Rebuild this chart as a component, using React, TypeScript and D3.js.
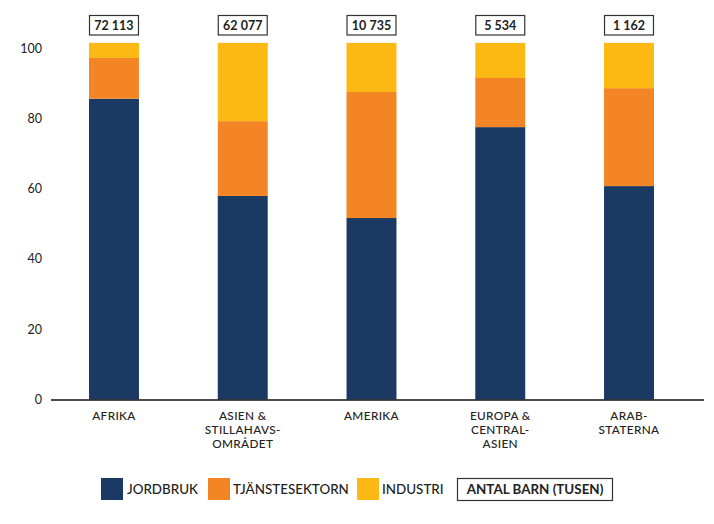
import React from "react";
import * as d3 from "d3";

const categories: string[][] = [
  ["AFRIKA"],
  ["ASIEN &", "STILLAHAVS-", "OMRÅDET"],
  ["AMERIKA"],
  ["EUROPA &", "CENTRAL-", "ASIEN"],
  ["ARAB-", "STATERNA"],
];
const jordbruk = [85.7, 58.0, 51.7, 77.6, 60.8];
const tjanste = [11.6, 21.3, 35.9, 14.0, 27.9];
const industri = [4.3, 22.3, 14.0, 10.0, 12.9];
const antalBarn = ["72 113", "62 077", "10 735", "5 534", "1 162"];
const seriesNames = ["JORDBRUK", "TJÄNSTESEKTORN", "INDUSTRI"];
const colors = ["#1b3a63", "#f48524", "#fcb813"];
const yTicks = [0, 20, 40, 60, 80, 100];
const boxLabel = "ANTAL BARN (TUSEN)";

const FONT = "Lato, 'Open Sans', sans-serif";

export default function App() {
  const W = 714, H = 524;
  const x = d3
    .scaleBand<number>()
    .domain(categories.map((_, i) => i))
    .range([50, 693])
    .paddingInner(0.612)
    .paddingOuter(0.303);
  const y = d3.scaleLinear().domain([0, 100]).range([399.5, 48.5]);

  const rows = categories.map((_, i) => ({
    i,
    j: jordbruk[i],
    t: tjanste[i],
    n: industri[i],
  }));
  const stack = d3.stack<any>().keys(["j", "t", "n"])(rows);

  const legendItems = [
    { x: 101, tx: 127 },
    { x: 208, tx: 233 },
    { x: 357, tx: 382 },
  ];

  return (
    <svg
      width={W}
      height={H}
      style={{ position: "absolute", left: 0, top: 0, background: "#fff" }}
      fontFamily={FONT}
    >
      {yTicks.map((t) => (
        <text
          key={t}
          x={42}
          y={y(t)}
          dy="0.35em"
          textAnchor="end"
          fontSize={12.5}
          fill="#222"
        >
          {t}
        </text>
      ))}
      {stack.map((layer, si) =>
        layer.map((d, i) => (
          <rect
            key={si + "-" + i}
            x={x(i)}
            y={y(d[1])}
            width={x.bandwidth()}
            height={y(d[0]) - y(d[1])}
            fill={colors[si]}
          />
        ))
      )}
      <line x1={51} x2={704} y1={400} y2={400} stroke="#111" strokeWidth={1.6} />
      {categories.map((lines, i) =>
        lines.map((l, k) => (
          <text
            key={i + "-" + k}
            x={(x(i) as number) + x.bandwidth() / 2}
            y={420 + k * 14.2}
            textAnchor="middle"
            fontSize={11.8}
            fontWeight={500}
            letterSpacing={0.35}
            fill="#222"
          >
            {l}
          </text>
        ))
      )}
      {antalBarn.map((v, i) => (
        <g key={i}>
          <rect
            x={(x(i) as number) + 0.5}
            y={15.5}
            width={x.bandwidth() - 1}
            height={19.5}
            fill="#fff"
            stroke="#333"
            strokeWidth={1.2}
          />
          <text
            x={(x(i) as number) + x.bandwidth() / 2}
            y={25.5}
            dy="0.35em"
            textAnchor="middle"
            fontSize={12.5}
            fontWeight={700}
            fill="#222"
          >
            {v}
          </text>
        </g>
      ))}
      {seriesNames.map((s, i) => (
        <g key={s}>
          <rect x={legendItems[i].x} y={478} width={22} height={22} fill={colors[i]} />
          <text x={legendItems[i].tx} y={489} dy="0.35em" fontSize={13.4} fontWeight={500} fill="#222">
            {s}
          </text>
        </g>
      ))}
      <rect x={457.5} y={478.5} width={155} height={22} fill="#fff" stroke="#333" strokeWidth={1.2} />
      <text x={535} y={489.5} dy="0.35em" textAnchor="middle" fontSize={13.4} fontWeight={700} fill="#222">
        {boxLabel}
      </text>
    </svg>
  );
}
